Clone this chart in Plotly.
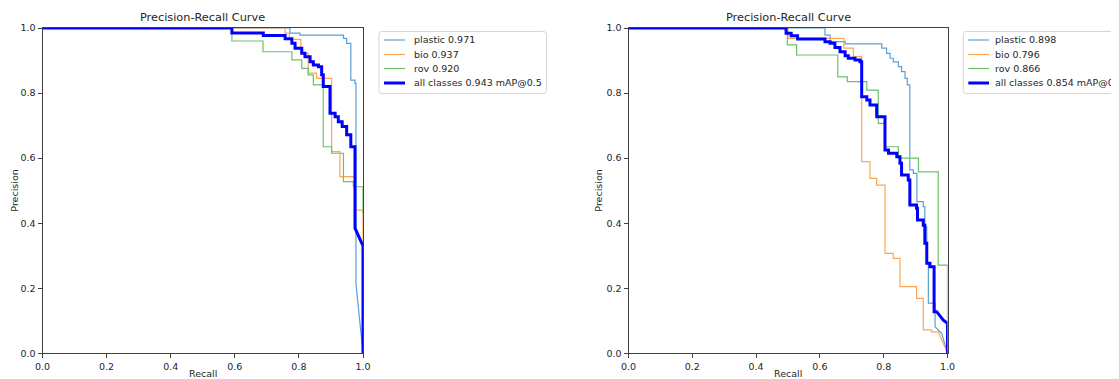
import plotly.graph_objects as go

# The page body adds an 8px offset, so the figure is 8px smaller than the window.
OFF = 8
W, H = 1119 - OFF, 379 - OFF

# ---------------- data ----------------
TITLE = "Precision-Recall Curve"
X_TICKS = [0.0, 0.2, 0.4, 0.6, 0.8, 1.0]
Y_TICKS = [0.0, 0.2, 0.4, 0.6, 0.8, 1.0]
TICK_TEXT = ["0.0", "0.2", "0.4", "0.6", "0.8", "1.0"]

LEFT_LABELS = ["plastic 0.971", "bio 0.937", "rov 0.920", "all classes 0.943 mAP@0.5"]
RIGHT_LABELS = ["plastic 0.898", "bio 0.796", "rov 0.866", "all classes 0.854 mAP@0.5"]

# Left panel
L_plastic_r = [0, 0.772, 0.772, 0.803, 0.803, 0.939, 0.939, 0.949, 0.949, 0.962, 0.962, 0.975, 0.975, 0.978, 0.978, 1.0]
L_plastic_p = [1, 1, 0.984, 0.984, 0.978, 0.978, 0.968, 0.968, 0.953, 0.953, 0.84, 0.84, 0.83, 0.83, 0.215, 0.0]

L_bio_r = [0, 0.757, 0.757, 0.77, 0.77, 0.806, 0.806, 0.829, 0.829, 0.855, 0.855, 0.902, 0.902, 0.928, 0.928, 0.976, 0.976, 1.0, 1.0]
L_bio_p = [1, 1, 0.984, 0.984, 0.965, 0.965, 0.922, 0.922, 0.861, 0.861, 0.845, 0.845, 0.62, 0.62, 0.543, 0.543, 0.44, 0.44, 0.0]

L_rov_r = [0, 0.591, 0.591, 0.688, 0.688, 0.778, 0.778, 0.809, 0.809, 0.829, 0.829, 0.845, 0.845, 0.876, 0.876, 0.902, 0.902, 0.939, 0.939, 0.97, 0.97, 1.0, 1.0]
L_rov_p = [1, 1, 0.96, 0.96, 0.927, 0.927, 0.902, 0.902, 0.876, 0.876, 0.856, 0.856, 0.825, 0.825, 0.635, 0.635, 0.615, 0.615, 0.528, 0.528, 0.512, 0.512, 0.43]

L_all_r = [0, 0.591, 0.591, 0.689, 0.689, 0.757, 0.757, 0.778, 0.778, 0.788, 0.788, 0.809, 0.809, 0.819, 0.819,
           0.835, 0.835, 0.845, 0.845, 0.861, 0.861, 0.871, 0.871, 0.876, 0.876, 0.897, 0.897, 0.913, 0.913,
           0.923, 0.923, 0.935, 0.935, 0.949, 0.949, 0.962, 0.962, 0.975, 0.975, 1.0, 1.0]
L_all_p = [1, 1, 0.985, 0.985, 0.977, 0.977, 0.967, 0.967, 0.953, 0.953, 0.938, 0.938, 0.922, 0.922, 0.912,
           0.912, 0.896, 0.896, 0.886, 0.886, 0.881, 0.881, 0.856, 0.856, 0.82, 0.82, 0.738, 0.738, 0.727,
           0.727, 0.712, 0.712, 0.697, 0.697, 0.672, 0.672, 0.635, 0.635, 0.385, 0.33, 0.0]

# Right panel
R_plastic_r = [0, 0.616, 0.616, 0.632, 0.632, 0.679, 0.679, 0.794, 0.794, 0.809, 0.809, 0.82, 0.82, 0.83, 0.83,
               0.846, 0.846, 0.856, 0.856, 0.867, 0.867, 0.874, 0.874, 0.882, 0.882, 0.893, 0.893, 0.904, 0.904,
               0.924, 0.924, 0.929, 0.929, 0.935, 0.935, 0.94, 0.94, 0.961, 0.961, 0.982, 1.0]
R_plastic_p = [1, 1, 0.978, 0.978, 0.958, 0.958, 0.951, 0.951, 0.938, 0.938, 0.922, 0.922, 0.907, 0.907, 0.896,
               0.896, 0.881, 0.881, 0.866, 0.866, 0.845, 0.845, 0.825, 0.825, 0.564, 0.564, 0.553, 0.553, 0.466,
               0.466, 0.451, 0.451, 0.389, 0.389, 0.277, 0.277, 0.154, 0.154, 0.082, 0.061, 0.0]

R_bio_r = [0, 0.5, 0.5, 0.675, 0.675, 0.705, 0.705, 0.731, 0.731, 0.757, 0.757, 0.778, 0.778, 0.804, 0.804,
           0.83, 0.83, 0.851, 0.851, 0.903, 0.903, 0.924, 0.924, 0.95, 0.95, 0.971, 1.0]
R_bio_p = [1, 1, 0.968, 0.968, 0.938, 0.938, 0.912, 0.912, 0.589, 0.589, 0.538, 0.538, 0.517, 0.517, 0.307,
           0.307, 0.292, 0.292, 0.205, 0.205, 0.169, 0.169, 0.072, 0.072, 0.066, 0.066, 0.0]

R_rov_r = [0, 0.498, 0.498, 0.527, 0.527, 0.656, 0.656, 0.686, 0.686, 0.747, 0.747, 0.783, 0.783, 0.804, 0.804,
           0.846, 0.846, 0.909, 0.909, 0.971, 0.971, 1.0, 1.0]
R_rov_p = [1, 1, 0.948, 0.948, 0.917, 0.917, 0.85, 0.85, 0.835, 0.835, 0.809, 0.809, 0.707, 0.707, 0.635,
           0.635, 0.6, 0.6, 0.558, 0.558, 0.271, 0.271, 0.0]

R_all_r = [0, 0.494, 0.494, 0.51, 0.51, 0.53, 0.53, 0.616, 0.616, 0.632, 0.632, 0.647, 0.647, 0.663, 0.663,
           0.679, 0.679, 0.689, 0.689, 0.71, 0.71, 0.726, 0.726, 0.731, 0.731, 0.747, 0.747, 0.757, 0.757,
           0.778, 0.778, 0.804, 0.804, 0.815, 0.815, 0.841, 0.841, 0.851, 0.851, 0.856, 0.856, 0.877, 0.877,
           0.882, 0.882, 0.903, 0.903, 0.906, 0.906, 0.924, 0.924, 0.929, 0.929, 0.935, 0.935, 0.945, 0.945,
           0.958, 0.958, 0.966, 0.987, 1.0, 1.0]
R_all_p = [1, 1, 0.984, 0.984, 0.976, 0.976, 0.966, 0.966, 0.958, 0.958, 0.953, 0.953, 0.94, 0.94, 0.927,
           0.927, 0.915, 0.915, 0.907, 0.907, 0.902, 0.902, 0.896, 0.896, 0.789, 0.789, 0.779, 0.779, 0.763,
           0.763, 0.727, 0.727, 0.625, 0.625, 0.615, 0.615, 0.604, 0.604, 0.584, 0.584, 0.548, 0.548, 0.533,
           0.533, 0.456, 0.456, 0.446, 0.446, 0.41, 0.41, 0.394, 0.394, 0.338, 0.338, 0.277, 0.277, 0.266,
           0.266, 0.128, 0.128, 0.102, 0.092, 0.0]

# ---------------- styling ----------------
C_PLASTIC = "#5b9fd6"
C_BIO = "#ffa550"
C_ROV = "#6cc06c"
C_ALL = "#0000ff"
COLORS = [C_PLASTIC, C_BIO, C_ROV, C_ALL]
WIDTHS = [1.2, 1.2, 1.2, 3]
FONT = "DejaVu Sans"
AX = "#404040"
TXT = "#262626"

def fx(px):
    # screen pixel -> paper fraction
    return (px - OFF) / W

def fy(py):
    return 1 - (py - OFF) / H

fig = go.Figure()

panels = [
    ("x", "y", [(L_plastic_r, L_plastic_p), (L_bio_r, L_bio_p), (L_rov_r, L_rov_p), (L_all_r, L_all_p)]),
    ("x2", "y2", [(R_plastic_r, R_plastic_p), (R_bio_r, R_bio_p), (R_rov_r, R_rov_p), (R_all_r, R_all_p)]),
]
for xa, ya, curves in panels:
    for (r, p), c, w in zip(curves, COLORS, WIDTHS):
        assert len(r) == len(p)
        fig.add_trace(go.Scatter(x=r, y=p, mode="lines", xaxis=xa, yaxis=ya,
                                 line=dict(color=c, width=w), showlegend=False,
                                 hoverinfo="skip"))

# plot areas in screen pixels
L_X0, L_X1 = 42.5, 363.0
R_X0, R_X1 = 628.5, 947.5
Y_TOP, Y_BOT = 28.0, 353.3

axis_common = dict(range=[0, 1], showgrid=False, zeroline=False, showline=True, mirror=True,
                   linecolor=AX, linewidth=1, ticks="outside", ticklen=4, tickwidth=1,
                   tickcolor=AX, tickfont=dict(family=FONT, size=9.5, color=TXT), fixedrange=True)

fig.update_layout(
    width=W, height=H,
    margin=dict(l=0, r=0, t=0, b=0, autoexpand=False),
    paper_bgcolor="white", plot_bgcolor="white",
    xaxis=dict(domain=[fx(L_X0), fx(L_X1)], anchor="y", tickvals=X_TICKS, ticktext=TICK_TEXT, **axis_common),
    yaxis=dict(domain=[fy(Y_BOT), fy(Y_TOP)], anchor="x", tickvals=Y_TICKS, ticktext=TICK_TEXT, **axis_common),
    xaxis2=dict(domain=[fx(R_X0), fx(R_X1)], anchor="y2", tickvals=X_TICKS, ticktext=TICK_TEXT, **axis_common),
    yaxis2=dict(domain=[fy(Y_BOT), fy(Y_TOP)], anchor="x2", tickvals=Y_TICKS, ticktext=TICK_TEXT, **axis_common),
)

annotations = []
shapes = []

for x0, x1, ylab_x in [(L_X0, L_X1, 15), (R_X0, R_X1, 599)]:
    cx = (x0 + x1) / 2
    annotations.append(dict(text=TITLE, x=fx(cx), y=fy(17.3), xref="paper", yref="paper",
                            showarrow=False, xanchor="center", yanchor="middle",
                            font=dict(family=FONT, size=11.3, color=TXT)))
    annotations.append(dict(text="Recall", x=fx(cx), y=fy(366), xref="paper", yref="paper",
                            showarrow=False, xanchor="center", yanchor="top",
                            font=dict(family=FONT, size=9.5, color=TXT)))
    annotations.append(dict(text="Precision", x=fx(ylab_x), y=fy((Y_TOP + Y_BOT) / 2), xref="paper",
                            yref="paper", showarrow=False, xanchor="center", yanchor="middle",
                            textangle=-90, font=dict(family=FONT, size=9.5, color=TXT)))

def rounded_rect(x0, y0, x1, y1, r=3):
    def P(px, py):
        return f"{fx(px):.6f},{fy(py):.6f}"
    return (f"M {P(x0 + r, y0)} L {P(x1 - r, y0)} Q {P(x1, y0)} {P(x1, y0 + r)} "
            f"L {P(x1, y1 - r)} Q {P(x1, y1)} {P(x1 - r, y1)} L {P(x0 + r, y1)} "
            f"Q {P(x0, y1)} {P(x0, y1 - r)} L {P(x0, y0 + r)} Q {P(x0, y0)} {P(x0 + r, y0)} Z")

legend_rows = [40, 54.5, 68.5, 83]
for box_x0, box_x1, line_x0, line_x1, text_x, labels in [
    (379, 546.5, 384, 405, 411.5, LEFT_LABELS),
    (963.3, 1135, 968.3, 989, 993.3, RIGHT_LABELS),
]:
    shapes.append(dict(type="path", path=rounded_rect(box_x0, 31.5, box_x1, 93.5), xref="paper", yref="paper",
                       line=dict(color="#d5d5d5", width=1), fillcolor="rgba(255,255,255,0.85)", layer="above"))
    for row, lab, c, w in zip(legend_rows, labels, COLORS, WIDTHS):
        shapes.append(dict(type="line", x0=fx(line_x0), x1=fx(line_x1), y0=fy(row), y1=fy(row),
                           xref="paper", yref="paper", line=dict(color=c, width=w), layer="above"))
        annotations.append(dict(text=lab, x=fx(text_x), y=fy(row), xref="paper", yref="paper",
                                showarrow=False, xanchor="left", yanchor="middle",
                                font=dict(family=FONT, size=9.5, color=TXT)))

fig.update_layout(annotations=annotations, shapes=shapes)

fig.write_html("out.html")
